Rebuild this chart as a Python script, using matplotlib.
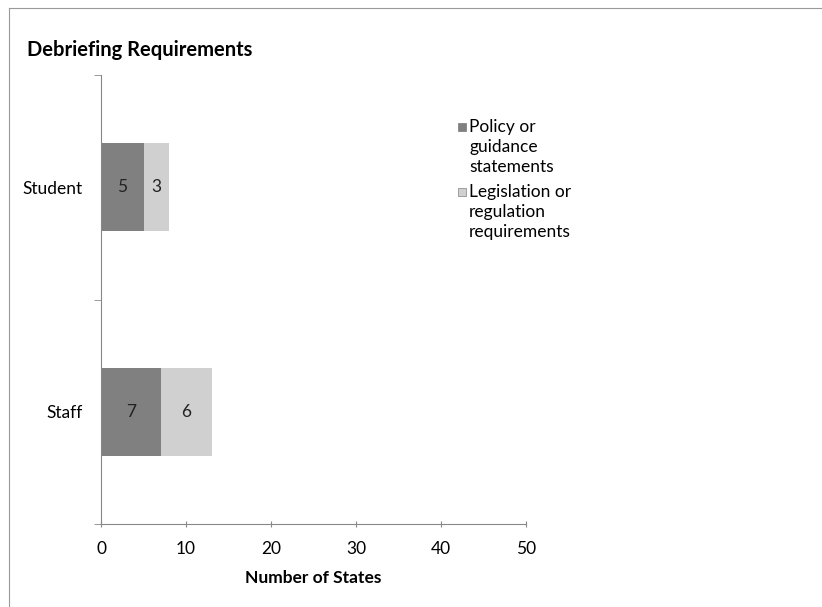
import numpy as np
import matplotlib
matplotlib.use('Agg')
import matplotlib.pyplot as plt
from matplotlib.patches import Rectangle
from matplotlib.lines import Line2D

plt.rcParams['font.family'] = ['Lato', 'DejaVu Sans']

categories = ['Staff', 'Student']
policy = [7, 5]
legislation = [6, 3]
series_names = ['Policy or\nguidance\nstatements', 'Legislation or\nregulation\nrequirements']
xticks = [0, 10, 20, 30, 40, 50]

DARK, LIGHT = '#808080', '#d0d0d0'
W, H = 822, 607
FS = 12.5

fig = plt.figure(figsize=(W / 100, H / 100), dpi=100)
ax = fig.add_axes([101 / W, 1 - 524 / H, 425 / W, 449 / H])

y = np.arange(len(categories))
h = 0.39
b1 = ax.barh(y, policy, h, color=DARK, edgecolor='none')
b2 = ax.barh(y, legislation, h, left=policy, color=LIGHT, edgecolor='none')
ax.bar_label(b1, label_type='center', fontsize=FS, color='#222222')
ax.bar_label(b2, label_type='center', fontsize=FS, color='#222222')

ax.set_xlim(0, 50)
ax.set_ylim(-0.5, 1.5)
ax.set_xticks(xticks)
ax.set_xticklabels([str(t) for t in xticks], fontsize=FS)
ax.set_yticks(y)
ax.set_yticklabels(categories, fontsize=FS)
ax.tick_params(axis='y', length=0, pad=13)
ax.set_yticks([-0.5, 0.5, 1.5], minor=True)
ax.tick_params(axis='y', which='minor', length=5, color='#888888')
ax.tick_params(axis='x', direction='inout', length=5, color='#888888', pad=10)
for s in ['top', 'right']:
    ax.spines[s].set_visible(False)
for s in ['left', 'bottom']:
    ax.spines[s].set_color('#888888')
    ax.spines[s].set_linewidth(0.8)
ax.set_xlabel('Number of States', fontsize=FS, fontweight='bold', labelpad=9)

# legend, marker beside first line of each entry (Excel style)
leg_x = 469
for name, col, ymid in zip(series_names, [DARK, LIGHT], [147, 212]):
    fig.text(leg_x / W, 1 - ymid / H, name, fontsize=FS, ha='left', va='center',
             linespacing=1.3)
    ytop = ymid - 20
    fig.add_artist(Rectangle(((leg_x - 11) / W, 1 - (ytop + 4) / H), 8 / W, 8 / H,
                             transform=fig.transFigure, facecolor=col, edgecolor='#666666', lw=0.4))

fig.text(27 / W, 1 - 50 / H, 'Debriefing Requirements', fontsize=14.5, fontweight='bold',
         ha='left', va='center')

# scanned frame: top and left edges only
fig.add_artist(Line2D([9 / W, 1], [1 - 8 / H, 1 - 8 / H], transform=fig.transFigure,
                      color='#999999', lw=0.8))
fig.add_artist(Line2D([9 / W, 9 / W], [0, 1 - 8 / H], transform=fig.transFigure,
                      color='#999999', lw=0.8))

fig.savefig('out.png', dpi=100)
